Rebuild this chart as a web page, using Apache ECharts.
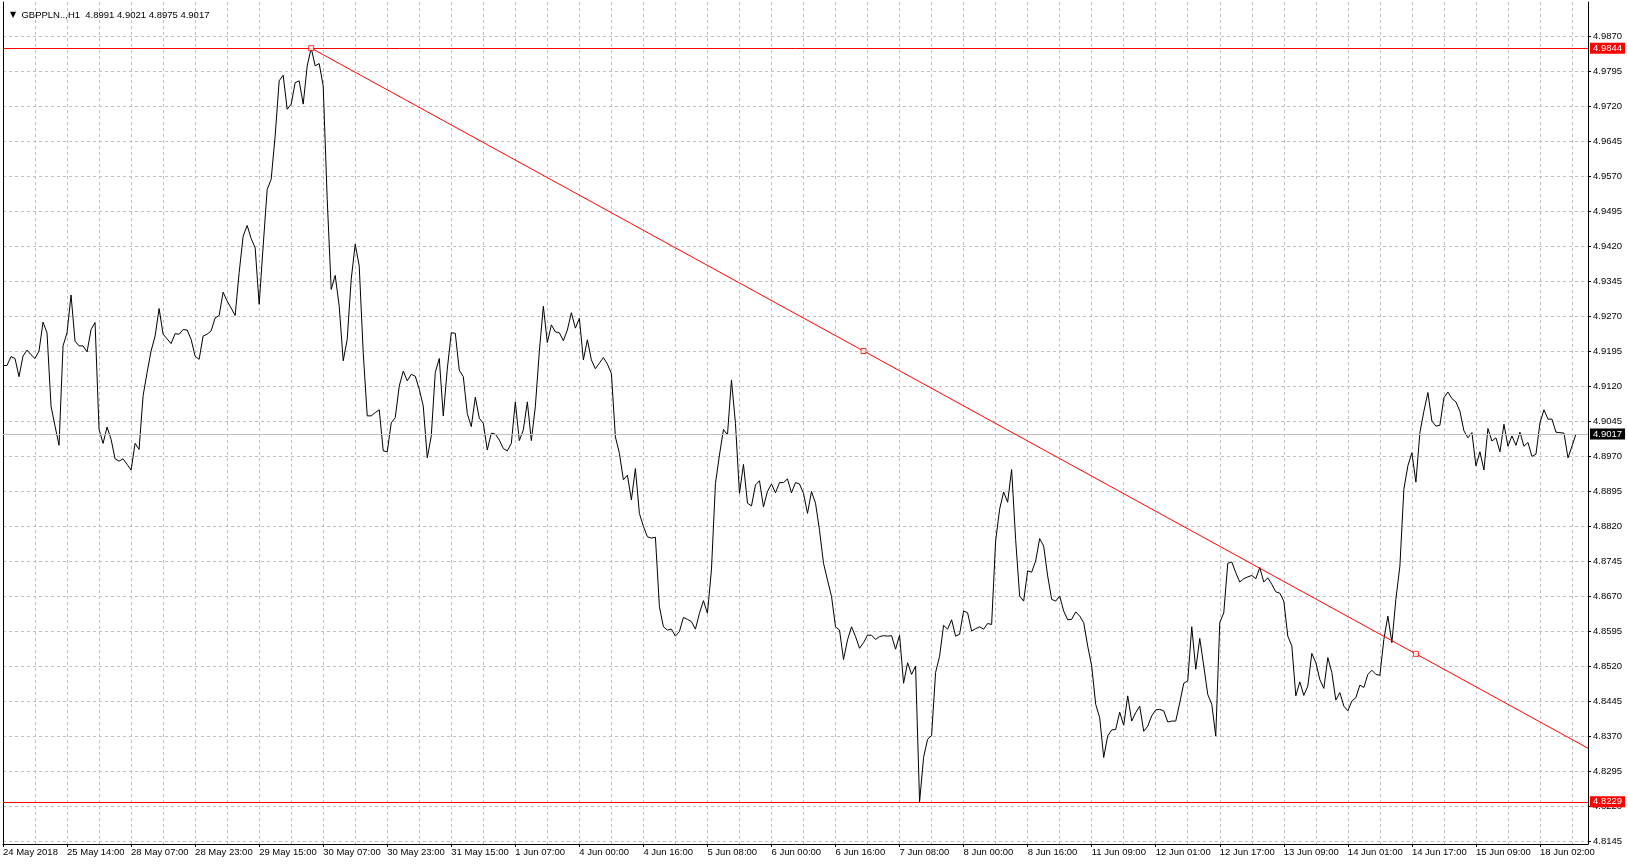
<!DOCTYPE html>
<html><head><meta charset="utf-8">
<script src="https://cdn.jsdelivr.net/npm/echarts@6/dist/echarts.min.js"></script>
<style>html,body{margin:0;padding:0;background:#fff}#c{width:1628px;height:865px}</style>
</head><body><div id="c"></div>
<script>
// ---------------- data ----------------
const symbolTitle = 'GBPPLN..,H1';
const lastOHLC = ['4.8991', '4.9021', '4.8975', '4.9017'];

// hourly closes, one array per trading week (start time = first bar)
const week1Start = '2018-05-24T22:00:00Z';
const week1 = [4.9164,4.9164,4.9183,4.9179,4.9140,4.9184,4.9197,4.9187,4.9179,4.9195,4.9257,4.9234,4.9077,4.9034,4.8993,4.9206,4.9234,4.9315,4.9216,4.9206,4.9206,4.9193,4.9241,4.9256,4.9027];
const week2Start = '2018-05-28T00:00:00Z';
const week2 = [4.8997,4.9032,4.9006,4.8964,4.8959,4.8964,4.8952,4.8940,4.8997,4.8984,
  4.9099,4.9149,4.9195,4.9227,4.9286,4.9231,4.9221,4.9211,4.9232,4.9231,
  4.9241,4.9240,4.9220,4.9184,4.9177,4.9227,4.9231,4.9238,4.9266,4.9271,
  4.9321,4.9302,4.9287,4.9271,4.9363,4.9441,4.9464,4.9436,4.9416,4.9295,
  4.9420,4.9541,4.9563,4.9656,4.9774,4.9786,4.9713,4.9724,4.9770,4.9774,
  4.9724,4.9806,4.9844,4.9806,4.9811,4.9763,4.9520,4.9327,4.9357,4.9291,
  4.9174,4.9220,4.9349,4.9424,4.9377,4.9191,4.9056,4.9056,4.9063,4.9069,
  4.8981,4.8979,4.9041,4.9052,4.9120,4.9152,4.9131,4.9145,4.9141,4.9113,
  4.9077,4.8966,4.9013,4.9149,4.9179,4.9056,4.9156,4.9234,4.9233,4.9154,
  4.9140,4.9061,4.9033,4.9096,4.9051,4.9040,4.8983,4.9019,4.9017,4.9004,
  4.8986,4.8981,4.8997,4.9086,4.9003,4.9026,4.9086,4.9003,4.9076,4.9194,
  4.9291,4.9213,4.9251,4.9236,4.9234,4.9217,4.9240,4.9277,4.9244];
const week3Start = '2018-06-04T00:00:00Z';
const week3 = [4.9265,4.9176,4.9219,4.9176,4.9157,4.9169,4.9181,4.9167,4.9147,4.9011,
  4.8976,4.8919,4.8929,4.8876,4.8943,4.8847,4.8819,4.8797,4.8794,4.8796,
  4.8647,4.8604,4.8597,4.8599,4.8584,4.8594,4.8624,4.8620,4.8615,4.8599,
  4.8633,4.8660,4.8633,4.8726,4.8911,4.8972,4.9027,4.9015,4.9133,4.9040,
  4.8890,4.8952,4.8869,4.8863,4.8908,4.8917,4.8861,4.8894,4.8910,4.8891,
  4.8913,4.8913,4.8921,4.8891,4.8913,4.8910,4.8890,4.8847,4.8894,4.8869,
  4.8811,4.8740,4.8704,4.8669,4.8604,4.8597,4.8534,4.8576,4.8604,4.8583,
  4.8558,4.8570,4.8586,4.8586,4.8577,4.8583,4.8585,4.8584,4.8585,4.8556,
  4.8586,4.8483,4.8527,4.8502,4.8520,4.8229,4.8324,4.8363,4.8371,4.8506,
  4.8541,4.8607,4.8599,4.8619,4.8584,4.8588,4.8638,4.8634,4.8595,4.8600,
  4.8604,4.8599,4.8611,4.8609,4.8788,4.8856,4.8893,4.8871,4.8941,4.8791,
  4.8670,4.8659,4.8724,4.8721,4.8745,4.8793,4.8777,4.8713,4.8663];
const week4Start = '2018-06-11T00:00:00Z';
const week4 = [4.8659,4.8670,4.8638,4.8619,4.8620,4.8636,4.8627,4.8613,4.8563,4.8520,
  4.8438,4.8409,4.8324,4.8370,4.8383,4.8384,4.8421,4.8393,4.8456,4.8402,
  4.8420,4.8434,4.8380,4.8391,4.8413,4.8426,4.8427,4.8424,4.8400,4.8402,
  4.8402,4.8441,4.8483,4.8488,4.8604,4.8513,4.8579,4.8520,4.8459,4.8438,
  4.8370,4.8613,4.8634,4.8740,4.8743,4.8720,4.8700,4.8707,4.8711,4.8714,
  4.8707,4.8731,4.8700,4.8709,4.8695,4.8679,4.8676,4.8659,4.8584,4.8563,
  4.8456,4.8486,4.8457,4.8477,4.8547,4.8527,4.8491,4.8472,4.8538,4.8506,
  4.8447,4.8463,4.8434,4.8424,4.8445,4.8452,4.8479,4.8474,4.8502,4.8511,
  4.8502,4.8500,4.8577,4.8627,4.8570,4.8663,4.8734,4.8899,4.8949,4.8977,
  4.8914,4.9020,4.9066,4.9106,4.9045,4.9034,4.9036,4.9095,4.9107,4.9093,
  4.9086,4.9066,4.9024,4.9009,4.9020,4.8949,4.8979,4.8940,4.9029,4.9002,
  4.9009,4.8979,4.9038,4.8991,4.9013,4.8993,4.9021,4.8991,4.8999];
const week5Start = '2018-06-18T00:00:00Z';
const week5 = [4.8969,4.8974,4.9041,4.9069,4.9049,4.9049,4.9021,4.9020,4.9019,4.8966,4.8991,4.9017];

// empty hours drawn to the right of the last bar
const emptyBarsRight = 3;

// time-axis tick labels (every 16th bar)
const xTickLabels = ['24 May 2018','25 May 14:00','28 May 07:00','28 May 23:00','29 May 15:00','30 May 07:00','30 May 23:00','31 May 15:00','1 Jun 07:00','4 Jun 00:00','4 Jun 16:00','5 Jun 08:00','6 Jun 00:00','6 Jun 16:00','7 Jun 08:00','8 Jun 00:00','8 Jun 16:00','11 Jun 09:00','12 Jun 01:00','12 Jun 17:00','13 Jun 09:00','14 Jun 01:00','14 Jun 17:00','15 Jun 09:00','18 Jun 02:00'];
const xLabelEvery = 16;
const xGridEvery = 8;

// price-axis tick labels
const yTicks = [4.8145,4.8220,4.8295,4.8370,4.8445,4.8520,4.8595,4.8670,4.8745,4.8820,4.8895,4.8970,4.9045,4.9120,4.9195,4.9270,4.9345,4.9420,4.9495,4.9570,4.9645,4.9720,4.9795,4.9870];
const yMin = 4.813857, yMax = 4.994286;

// horizontal levels
const highLevel = 4.9844;
const lowLevel = 4.8229;
const lastPrice = 4.9017;

// trend line anchors: [bar index, price]
const trendAnchors = [[77, 4.9844], [215, 4.9195], [353, 4.8546]];

// ---------------- build ----------------
const MON = ['Jan','Feb','Mar','Apr','May','Jun','Jul','Aug','Sep','Oct','Nov','Dec'];
function hourName(t) {
  const d = new Date(t);
  return d.getUTCDate() + ' ' + MON[d.getUTCMonth()] + ' ' + String(d.getUTCHours()).padStart(2, '0') + ':00';
}
const weeks = [[week1Start, week1], [week2Start, week2], [week3Start, week3], [week4Start, week4], [week5Start, week5]];
const categories = [];
const closes = [];
let lastT = 0;
weeks.forEach(([s, arr]) => {
  const t0 = Date.parse(s);
  arr.forEach((v, k) => { lastT = t0 + k * 3600000; categories.push(hourName(lastT)); closes.push(v); });
});
for (let k = 1; k <= emptyBarsRight; k++) categories.push(hourName(lastT + k * 3600000));

const endIdx = categories.length - 1;
const slope = (trendAnchors[1][1] - trendAnchors[0][1]) / (trendAnchors[1][0] - trendAnchors[0][0]);
const trendEnd = trendAnchors[0][1] + slope * (endIdx - trendAnchors[0][0]);

const FONT = 'Liberation Sans';
const FS = 9.5;

function levelLabel(bg, text) {
  return {
    show: true, position: 'end', distance: 2, formatter: text,
    backgroundColor: bg, color: '#fff', fontFamily: FONT, fontSize: FS,
    padding: [1, 3, 0, 3], lineHeight: 10
  };
}

const chart = echarts.init(document.getElementById('c'), null, { renderer: 'canvas' });
chart.setOption({
  animation: false,
  backgroundColor: '#fff',
  title: {
    text: '{t|▼}  ' + symbolTitle + '  ' + lastOHLC.join(' '),
    left: 5, top: 5,
    textStyle: {
      fontFamily: FONT, fontSize: FS, fontWeight: 'normal', color: '#000',
      rich: { t: { fontSize: 8, fontFamily: 'DejaVu Sans', color: '#000' } }
    }
  },
  grid: { left: 3, right: 40, top: 2, bottom: 21, outerBoundsMode: 'none', containLabel: false },
  xAxis: {
    type: 'category', data: categories, boundaryGap: false,
    axisLine: { show: true, lineStyle: { color: '#000', width: 1 } },
    axisTick: { show: true, interval: xLabelEvery - 1, length: 3, lineStyle: { color: '#000' } },
    axisLabel: {
      interval: xLabelEvery - 1, align: 'left', margin: 3, color: '#000',
      fontFamily: FONT, fontSize: FS, hideOverlap: false,
      formatter: (v, i) => (i % xLabelEvery === 0 && xTickLabels[i / xLabelEvery]) ? xTickLabels[i / xLabelEvery] : ''
    },
    splitLine: { show: true, interval: xGridEvery - 1, lineStyle: { color: '#c0c0c0', type: [3, 3], width: 1 } }
  },
  yAxis: [{
    type: 'value', position: 'right', min: yMin, max: yMax,
    axisLine: { show: true, lineStyle: { color: '#000', width: 1 } },
    axisTick: { show: true, customValues: yTicks, length: 3, lineStyle: { color: '#000' } },
    axisLabel: { customValues: yTicks, formatter: v => v.toFixed(4), margin: 5, color: '#000', fontFamily: FONT, fontSize: FS },
    splitLine: { show: true, lineStyle: { color: '#c0c0c0', type: [3, 3], width: 1 } }
  }, {
    type: 'value', position: 'left', min: yMin, max: yMax,
    axisLine: { show: true, lineStyle: { color: '#000', width: 1 } },
    axisTick: { show: false }, axisLabel: { show: false }, splitLine: { show: false }
  }],
  series: [{
    type: 'line', name: 'close', data: closes, symbol: 'none', showSymbol: false,
    clip: false,
    lineStyle: { color: '#000', width: 1 },
    itemStyle: { color: '#000' },
    markLine: {
      silent: true, symbol: ['none', 'none'], animation: false, precision: 4,
      data: [
        { yAxis: lastPrice, lineStyle: { color: '#c0c0c0', width: 1, type: 'solid' }, label: levelLabel('#000', lastPrice.toFixed(4)) },
        { yAxis: highLevel, lineStyle: { color: '#ff0000', width: 1, type: 'solid' }, label: levelLabel('#ff0000', highLevel.toFixed(4)) },
        { yAxis: lowLevel, lineStyle: { color: '#ff0000', width: 1, type: 'solid' }, label: levelLabel('#ff0000', lowLevel.toFixed(4)) },
        [
          { coord: [trendAnchors[0][0], trendAnchors[0][1]], lineStyle: { color: '#ff0000', width: 1, type: 'solid' }, label: { show: false } },
          { coord: [endIdx, trendEnd] }
        ]
      ]
    }
  }, {
    type: 'scatter', name: 'anchors', data: trendAnchors, symbol: 'rect', symbolSize: 5, z: 5,
    itemStyle: { color: '#fff', borderColor: '#ff0000', borderWidth: 1 }, silent: true
  }]
});
</script>
</body></html>
